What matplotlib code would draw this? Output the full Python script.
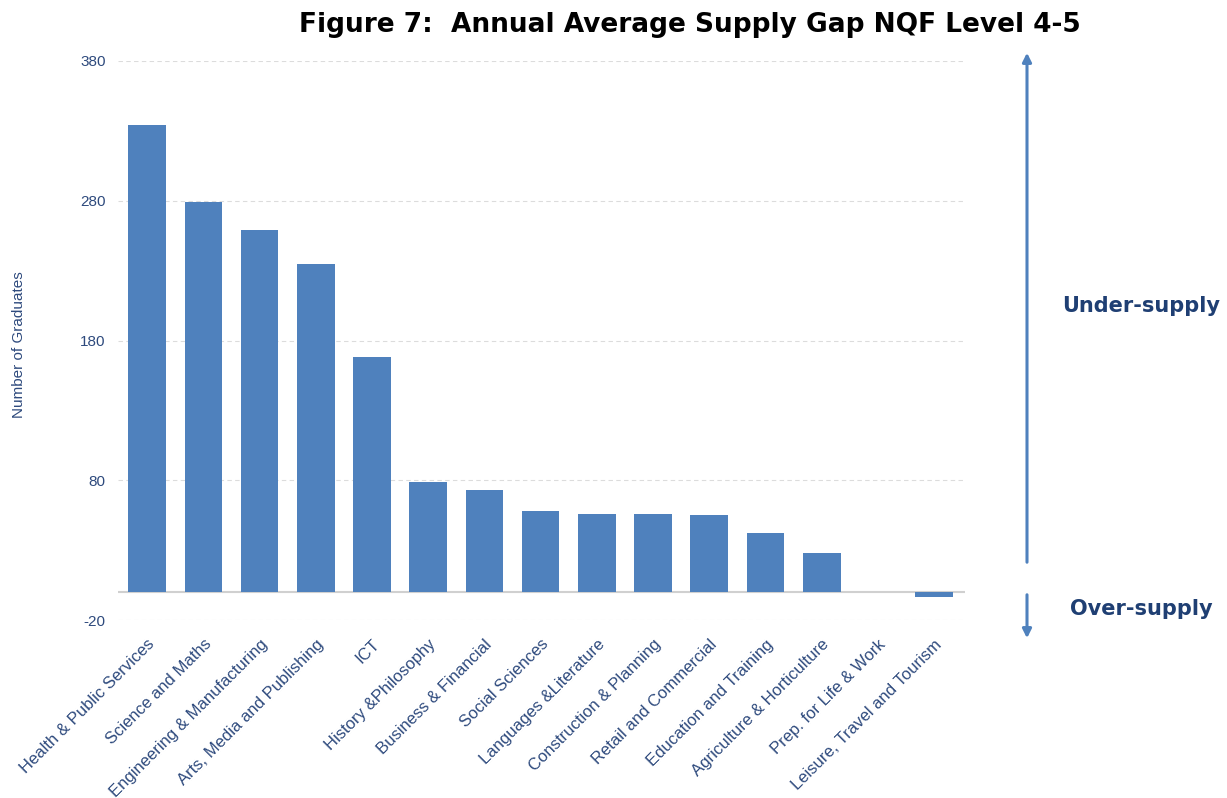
import numpy as np
import matplotlib
matplotlib.use("Agg")
import matplotlib.pyplot as plt
from matplotlib.patches import FancyArrowPatch

plt.rcParams.update({"font.family": "Liberation Sans", "font.size": 9})

BAR = "#4f81bd"
NAVY = "#2e4a7d"
W, H = 1227, 798

categories = ["Health & Public Services", "Science and Maths", "Engineering & Manufacturing",
              "Arts, Media and Publishing", "ICT", "History &Philosophy", "Business & Financial",
              "Social Sciences", "Languages &Literature", "Construction & Planning",
              "Retail and Commercial", "Education and Training", "Agriculture & Horticulture",
              "Prep. for Life & Work", "Leisure, Travel and Tourism"]
gap = [334, 279, 259, 235, 168, 79, 73, 58, 56, 56, 55, 42, 28, 0, -3.5]
yticks = [-20, 80, 180, 280, 380]

fig = plt.figure(figsize=(W / 100, H / 100), dpi=100)
ax = fig.add_axes([118 / W, 1 - 620 / H, (965 - 118) / W, (620 - 61) / H])

x = np.arange(len(categories))
ax.bar(x, gap, width=0.67, color=BAR, zorder=3)
ax.axhline(0, color="#d0d0d0", lw=1.5, zorder=2)
for t in yticks:
    ax.axhline(t, color="#dcdcdc", lw=0.8, ls=(0, (4, 3)), zorder=1)

ax.set_xlim(-0.52, 14.55)
ax.set_ylim(-20, 380)
ax.set_yticks(yticks)
ax.set_yticklabels([str(t) for t in yticks], color=NAVY, fontsize=11)
ax.set_xticks(x)
ax.set_xticklabels(categories, rotation=45, ha="right", va="top",
                   rotation_mode="anchor", color=NAVY, fontsize=12)
ax.tick_params(axis="y", length=0, pad=9)
ax.tick_params(axis="x", length=0, pad=12)
for s in ax.spines.values():
    s.set_visible(False)
ax.set_ylabel("Number of Graduates", color=NAVY, fontsize=11)
ax.yaxis.set_label_coords(-92 / (965 - 118), 0.492)

fig.text(690 / W, 1 - 25 / H, "Figure 7:  Annual Average Supply Gap NQF Level 4-5",
         ha="center", va="center", fontsize=19, fontweight="bold",
         family="DejaVu Sans", color="black")

# side arrows
def fpt(px, py):
    return (px / W, 1 - py / H)

fig.add_artist(FancyArrowPatch(fpt(1027, 565), fpt(1027, 50), transform=fig.transFigure,
                               arrowstyle="-|>", mutation_scale=13, color=BAR, lw=2.2))
fig.add_artist(FancyArrowPatch(fpt(1027, 592), fpt(1027, 641), transform=fig.transFigure,
                               arrowstyle="-|>", mutation_scale=13, color=BAR, lw=2.2))
fig.text(1141 / W, 1 - 306 / H, "Under-supply", ha="center", va="center",
         fontsize=15, fontweight="bold", color="#1f3f73", family="DejaVu Sans")
fig.text(1141 / W, 1 - 609 / H, "Over-supply", ha="center", va="center",
         fontsize=15, fontweight="bold", color="#1f3f73", family="DejaVu Sans")

fig.savefig("out.png", dpi=100)
